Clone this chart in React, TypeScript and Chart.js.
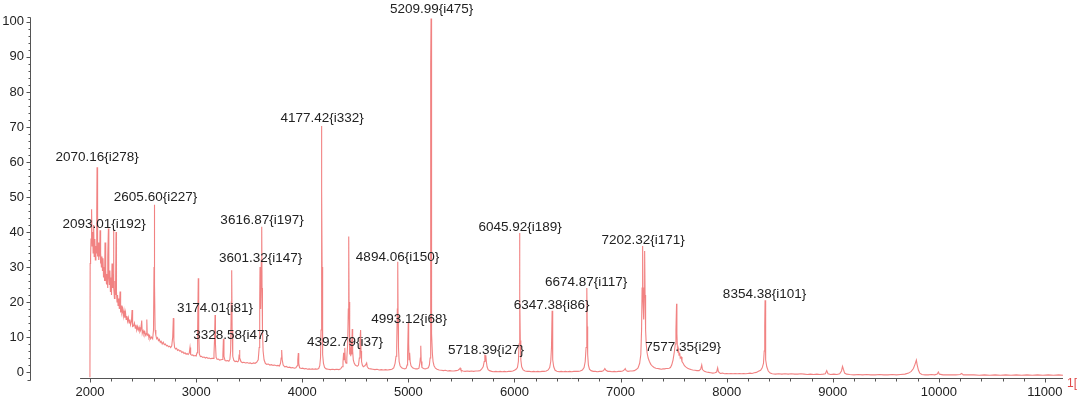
import React, { useEffect, useRef } from "react";
import { Chart, registerables } from "chart.js";

Chart.register(...registerables);

// ---- data ----
const xTickValues = [2000, 3000, 4000, 5000, 6000, 7000, 8000, 9000, 10000, 11000];
const yTickValues = [0, 10, 20, 30, 40, 50, 60, 70, 80, 90, 100];

const peakMz = [2070.16, 2093.01, 2605.6, 3616.87, 3601.32, 3174.01, 3328.58, 4177.42, 5209.99, 4894.06, 4993.12, 4392.79, 5718.39, 6045.92, 6347.38, 6674.87, 7202.32, 7577.35, 8354.38];
const peakIntensity = [278, 192, 227, 197, 147, 81, 47, 332, 475, 150, 68, 37, 27, 189, 86, 117, 171, 29, 101];
const labelMzPositions = [2066, 2132, 2617, 3621, 3607, 3178, 3329, 4187, 5219, 4898, 5007, 4403, 5732, 6053, 6350, 6675, 7212, 7590, 8357];
const labelHeights = [61.2, 42.3, 50.0, 43.4, 32.6, 18.3, 10.6, 72.6, 103.7, 32.9, 15.2, 8.6, 6.3, 41.4, 19.1, 25.7, 37.7, 7.1, 22.3];

const spectrum: [number, number][] = [
  [1999, -1.5], [2001, 31], [2005, 33], [2009, 38], [2013, 44], [2016, 46.5], [2019, 36], [2024, 40], [2029, 34],
  [2034, 42], [2039, 33], [2045, 38], [2050, 32], [2055, 36], [2060, 34], [2063, 45], [2066, 58.5], [2069, 40],
  [2073, 33], [2078, 37], [2082, 32], [2087, 35], [2091, 33], [2094, 40.5], [2097, 31], [2102, 34], [2107, 30],
  [2112, 33], [2117, 29], [2122, 32.5], [2127, 27], [2132, 30], [2137, 26], [2141, 37], [2145, 26], [2150, 29],
  [2155, 25], [2160, 28], [2165, 24], [2169, 33], [2173, 41], [2177, 27], [2182, 25], [2187, 29], [2192, 23],
  [2197, 27], [2202, 22], [2207, 31], [2212, 24], [2217, 28], [2221, 40.5], [2225, 24], [2230, 21], [2235, 26],
  [2240, 22], [2245, 40], [2249, 23], [2254, 20], [2259, 22], [2264, 19], [2270, 21], [2276, 18], [2283, 23],
  [2288, 17], [2294, 19], [2300, 17], [2307, 18], [2314, 16], [2320, 17.5], [2327, 15.5], [2334, 17], [2340, 15],
  [2347, 16], [2354, 14.5], [2361, 15.5], [2368, 14], [2375, 15], [2382, 13.5], [2390, 14.5], [2396, 17.7], [2401, 13],
  [2410, 13.2], [2418, 14], [2426, 12.5], [2433, 13.5], [2440, 12], [2447, 13], [2455, 12], [2462, 12.8], [2470, 11.5],
  [2478, 12], [2487, 14.7], [2492, 11], [2500, 11.8], [2508, 10.8], [2516, 11.5], [2524, 10.5], [2531, 11], [2535, 15],
  [2539, 10.5], [2547, 10.8], [2555, 9.8], [2563, 10.3], [2571, 9.5], [2580, 10], [2590, 9.5], [2598, 12], [2603, 30],
  [2606, 47.8], [2609, 25], [2613, 12], [2620, 10.5], [2628, 9.5], [2636, 9.8], [2645, 9], [2653, 9.3], [2662, 8.5],
  [2670, 8.8], [2680, 8], [2690, 8.5], [2700, 7.8], [2710, 8], [2720, 7.5], [2730, 7.6], [2740, 7.2], [2750, 7.4],
  [2760, 7], [2770, 7.5], [2779, 10], [2785, 15.4], [2790, 9], [2797, 7], [2806, 6.6], [2815, 6.8], [2825, 6.2],
  [2835, 6.4], [2845, 6], [2855, 6.1], [2865, 5.6], [2875, 5.8], [2885, 5.3], [2895, 5.5], [2905, 5.1], [2915, 5.3],
  [2925, 5], [2935, 5.4], [2942, 7], [2948, 5], [2958, 4.8], [2968, 4.9], [2978, 4.6], [2990, 4.7], [3000, 4.6],
  [3008, 5.5], [3014, 12], [3020, 26.8], [3024, 12], [3030, 5.2], [3040, 4.4], [3050, 4.5], [3062, 4.2], [3075, 4.3],
  [3088, 4], [3100, 4.2], [3112, 3.9], [3124, 4], [3136, 3.8], [3148, 3.9], [3160, 3.9], [3168, 5], [3174, 10],
  [3178, 16.3], [3182, 8], [3188, 4.2], [3198, 3.6], [3210, 3.7], [3222, 3.4], [3234, 3.5], [3246, 3.6], [3252, 5],
  [3257, 9.5], [3262, 4.5], [3272, 3.3], [3284, 3.2], [3296, 3.3], [3308, 3.1], [3318, 3.6], [3325, 6], [3331, 20],
  [3335, 29.1], [3339, 12], [3345, 4.5], [3355, 3.3], [3367, 3], [3380, 3.1], [3392, 2.9], [3400, 3.2], [3404, 4.5],
  [3408, 6.3], [3413, 4], [3422, 3], [3435, 2.7], [3450, 2.8], [3465, 2.6], [3480, 2.7], [3495, 2.5], [3510, 2.6],
  [3525, 2.4], [3540, 2.6], [3555, 2.5], [3570, 2.8], [3585, 3.5], [3594, 7], [3599, 20], [3602, 30], [3606, 22],
  [3610, 18], [3614, 32], [3618, 41.5], [3621, 24], [3625, 12], [3631, 6], [3640, 3.5], [3652, 2.5], [3665, 2.2],
  [3680, 2.3], [3695, 2], [3710, 2.1], [3725, 1.9], [3740, 2], [3755, 1.8], [3770, 1.9], [3785, 1.7], [3795, 2.5],
  [3801, 4], [3806, 6.3], [3811, 3.5], [3820, 2], [3835, 1.5], [3850, 1.6], [3865, 1.3], [3880, 1.4], [3895, 1.2],
  [3910, 1.3], [3925, 1.1], [3940, 1.2], [3952, 1.8], [3958, 3.5], [3963, 5.4], [3967, 2.5], [3975, 1.2], [3990, 1],
  [4005, 1.1], [4020, 0.9], [4035, 1], [4050, 0.8], [4065, 0.9], [4080, 0.8], [4095, 0.9], [4110, 0.8], [4125, 0.9],
  [4140, 0.8], [4155, 1], [4165, 1.8], [4172, 4], [4177, 12], [4180, 46], [4183, 70.3], [4185, 52], [4187, 30],
  [4190, 12], [4194, 5], [4200, 2.5], [4210, 1.3], [4225, 0.9], [4245, 0.8], [4265, 0.7], [4285, 0.8], [4305, 0.7],
  [4325, 0.8], [4345, 0.7], [4362, 0.9], [4375, 1.5], [4384, 3], [4390, 5.5], [4395, 3.5], [4401, 6.9], [4406, 3],
  [4413, 2.5], [4420, 4], [4428, 8], [4434, 18], [4438, 38.7], [4441, 20], [4445, 9], [4449, 5], [4453, 7],
  [4457, 4.5], [4462, 9], [4466, 5], [4471, 12.3], [4475, 6], [4481, 3.5], [4490, 2.5], [4500, 2], [4510, 1.8],
  [4520, 1.7], [4530, 2], [4538, 4], [4544, 9], [4550, 12], [4554, 6], [4559, 3], [4566, 2], [4575, 1.5],
  [4590, 1.8], [4600, 2.2], [4607, 2.6], [4612, 1.6], [4625, 1], [4645, 0.9], [4665, 0.8], [4685, 0.7], [4705, 0.8],
  [4725, 0.6], [4745, 0.7], [4765, 0.6], [4785, 0.7], [4805, 0.6], [4825, 0.7], [4845, 0.8], [4862, 1.2], [4875, 2.5],
  [4884, 4.5], [4890, 7], [4896, 18], [4900, 31.5], [4903, 16], [4907, 7], [4913, 3], [4922, 1.8], [4937, 1.2],
  [4952, 1], [4967, 0.9], [4980, 1.1], [4988, 2], [4993, 5], [4999, 14], [5003, 8], [5007, 3.5], [5012, 5.5],
  [5017, 3], [5025, 1.8], [5040, 1.2], [5055, 1], [5070, 0.9], [5085, 0.9], [5100, 1.1], [5108, 2.5], [5113, 4],
  [5117, 7.5], [5121, 3], [5128, 1.3], [5143, 1], [5158, 0.9], [5173, 1], [5188, 1.2], [5198, 2], [5205, 4],
  [5209, 12], [5212, 88], [5214, 101], [5216, 45], [5218, 28], [5222, 11], [5227, 5], [5233, 3], [5242, 1.8],
  [5255, 1.1], [5270, 0.8], [5290, 0.6], [5310, 0.5], [5330, 0.4], [5350, 0.5], [5370, 0.3], [5390, 0.4], [5410, 0.3],
  [5430, 0.3], [5450, 0.4], [5468, 0.5], [5480, 0.8], [5488, 1.1], [5496, 0.5], [5515, 0.3], [5535, 0.2], [5555, 0.3],
  [5575, 0.2], [5595, 0.3], [5615, 0.2], [5635, 0.3], [5655, 0.3], [5675, 0.4], [5690, 0.8], [5705, 1.5], [5715, 3],
  [5721, 5], [5725, 3.2], [5730, 4.8], [5735, 3], [5742, 1.5], [5752, 0.7], [5765, 0.4], [5785, 0.2], [5805, 0.1],
  [5825, 0.2], [5845, 0.1], [5865, 0.2], [5885, 0.1], [5905, 0.2], [5925, 0.1], [5945, 0.2], [5965, 0.2], [5985, 0.3],
  [6000, 0.5], [6015, 0.8], [6028, 1.3], [6037, 3], [6043, 8], [6047, 20], [6050, 39.7], [6052, 22], [6055, 9],
  [6060, 3.5], [6068, 1.5], [6082, 0.6], [6100, 0.3], [6120, 0.2], [6140, 0.2], [6160, 0.1], [6180, 0.2], [6200, 0.1],
  [6220, 0.2], [6240, 0.1], [6260, 0.2], [6280, 0.2], [6300, 0.3], [6318, 0.6], [6332, 1.3], [6342, 3], [6349, 7],
  [6355, 17.5], [6358, 9], [6363, 3.5], [6370, 1.5], [6383, 0.5], [6400, 0.2], [6420, 0.1], [6440, 0.2], [6460, 0.1],
  [6480, 0.2], [6500, 0.1], [6520, 0.2], [6540, 0.1], [6560, 0.2], [6580, 0.2], [6600, 0.2], [6620, 0.3], [6640, 0.6],
  [6656, 1.3], [6667, 3], [6675, 7], [6681, 13], [6683, 24], [6686, 13], [6690, 5], [6697, 2], [6707, 0.8],
  [6722, 0.4], [6742, 0.2], [6762, 0.2], [6782, 0.1], [6802, 0.2], [6822, 0.2], [6840, 0.4], [6852, 1], [6862, 0.5],
  [6880, 0.2], [6900, 0.2], [6920, 0.1], [6940, 0.2], [6960, 0.1], [6980, 0.2], [7000, 0.2], [7020, 0.3], [7035, 0.6],
  [7044, 1], [7053, 0.4], [7070, 0.2], [7090, 0.3], [7110, 0.3], [7130, 0.4], [7148, 0.7], [7165, 1.2], [7180, 2.5],
  [7191, 5], [7198, 12], [7203, 24], [7208, 36], [7212, 20], [7218, 15], [7222, 24], [7227, 34.6], [7231, 22],
  [7236, 12], [7242, 8], [7250, 5.5], [7260, 4], [7272, 3], [7285, 2.2], [7300, 1.7], [7316, 1.3], [7333, 1.1],
  [7350, 1], [7368, 0.9], [7385, 0.8], [7400, 0.9], [7415, 0.9], [7430, 1], [7445, 1], [7458, 1.1], [7470, 1.3],
  [7482, 2], [7495, 3.5], [7508, 6], [7516, 8], [7522, 12], [7528, 19.5], [7531, 11], [7536, 6.5], [7541, 5.5],
  [7546, 6.5], [7551, 4.8], [7557, 5.5], [7563, 4], [7571, 4.3], [7579, 3], [7590, 2.5], [7602, 1.8], [7617, 1.4],
  [7632, 1.1], [7648, 0.9], [7664, 0.7], [7680, 0.6], [7700, 0.5], [7720, 0.4], [7740, 0.4], [7755, 0.8], [7765, 2],
  [7772, 0.7], [7790, 0.2], [7810, 0], [7830, -0.1], [7850, -0.2], [7870, -0.3], [7890, -0.2], [7905, 0], [7915, 1.2],
  [7922, 0.1], [7940, -0.4], [7960, -0.3], [7980, -0.5], [8000, -0.4], [8020, -0.5], [8040, -0.4], [8060, -0.5],
  [8080, -0.4], [8100, -0.5], [8120, -0.4], [8140, -0.5], [8160, -0.4], [8180, -0.5], [8200, -0.4], [8220, -0.3],
  [8240, -0.4], [8260, -0.2], [8280, -0.1], [8300, 0.2], [8320, 0.5], [8335, 1.2], [8347, 2.5], [8354, 6], [8359, 13],
  [8362, 20.5], [8365, 9], [8370, 3.5], [8378, 1.5], [8392, 0.3], [8410, -0.3], [8430, -0.5], [8460, -0.6], [8490, -0.5],
  [8520, -0.6], [8550, -0.5], [8580, -0.6], [8610, -0.5], [8640, -0.6], [8670, -0.6], [8700, -0.5], [8730, -0.6],
  [8760, -0.7], [8790, -0.6], [8820, -0.7], [8850, -0.6], [8880, -0.7], [8910, -0.6], [8930, -0.5], [8943, 0.4],
  [8955, -0.5], [8980, -0.7], [9010, -0.6], [9040, -0.7], [9065, -0.5], [9082, 0.3], [9092, 1.6], [9100, 0.8],
  [9112, -0.3], [9130, -0.6], [9160, -0.7], [9200, -0.8], [9240, -0.7], [9280, -0.8], [9320, -0.7], [9360, -0.8],
  [9400, -0.8], [9440, -0.7], [9480, -0.8], [9520, -0.8], [9560, -0.7], [9600, -0.8], [9640, -0.7], [9680, -0.6],
  [9715, -0.3], [9740, 0.2], [9760, 1], [9775, 2.2], [9788, 3.4], [9796, 2], [9808, 0.5], [9820, -0.3], [9840, -0.7],
  [9870, -0.8], [9900, -0.8], [9930, -0.7], [9960, -0.8], [9985, -0.6], [9995, 0], [10005, -0.6], [10040, -0.8],
  [10080, -0.8], [10120, -0.8], [10160, -0.8], [10200, -0.7], [10215, -0.4], [10230, -0.8], [10280, -0.8],
  [10330, -0.8], [10380, -0.9], [10430, -0.8], [10480, -0.9], [10530, -0.8], [10580, -0.9], [10630, -0.8],
  [10680, -0.9], [10730, -0.8], [10780, -0.9], [10830, -0.8], [10880, -0.9], [10930, -0.8], [10980, -0.9],
  [11030, -0.8], [11080, -0.9], [11130, -0.8], [11170, -0.9],
];

// ---- layout / style constants ----
const X_MIN = 1434;
const X_MAX = 11170;
const Y_MIN = -1.7;
const Y_MAX = 101.4;
const X_AXIS_START = 1906;
const X_MINOR_STEP = 200;
const Y_MINOR_STEP = 2;
const AXIS_COLOR = "#555";
const TEXT_COLOR = "#222";
const LINE_COLOR = "rgba(236, 82, 82, 0.72)";
const FONT_FAMILY = '"Liberation Sans", Arial, sans-serif';

const axesPlugin = {
  id: "customAxes",
  afterDraw(chart: any) {
    const { ctx, chartArea, scales } = chart;
    const xs = scales.x;
    const ys = scales.y;
    ctx.save();
    ctx.strokeStyle = AXIS_COLOR;
    ctx.lineWidth = 1;
    // y axis
    const yx = Math.round(chartArea.left) + 0.5;
    ctx.beginPath();
    ctx.moveTo(yx - 3, chartArea.top + 0.5);
    ctx.lineTo(yx, chartArea.top + 0.5);
    ctx.lineTo(yx, chartArea.bottom + 2.5);
    ctx.lineTo(yx - 3, chartArea.bottom + 2.5);
    ctx.stroke();
    for (let v = 0; v <= 100; v += Y_MINOR_STEP) {
      const py = Math.round(ys.getPixelForValue(v)) + 0.5;
      const len = v % 10 === 0 ? 4 : 2;
      ctx.beginPath();
      ctx.moveTo(yx - len, py);
      ctx.lineTo(yx, py);
      ctx.stroke();
    }
    // x axis
    const xy = Math.round(chartArea.bottom) + 0.5;
    ctx.beginPath();
    ctx.moveTo(xs.getPixelForValue(X_AXIS_START), xy);
    ctx.lineTo(chartArea.right, xy);
    ctx.stroke();
    for (let v = 2000; v <= 11000; v += X_MINOR_STEP) {
      const px = Math.round(xs.getPixelForValue(v)) + 0.5;
      const len = v % 1000 === 0 ? 4 : 3;
      ctx.beginPath();
      ctx.moveTo(px, xy);
      ctx.lineTo(px, xy + len);
      ctx.stroke();
    }
    // truncated axis title at the right end
    ctx.fillStyle = "#e04848";
    ctx.font = `12px ${FONT_FAMILY}`;
    ctx.textAlign = "left";
    ctx.textBaseline = "middle";
    ctx.fillText("1[", chartArea.right + 4, xy + 5);
    ctx.restore();
  },
};

const labelsPlugin = {
  id: "peakLabels",
  afterDraw(chart: any) {
    const { ctx, scales } = chart;
    ctx.save();
    ctx.fillStyle = TEXT_COLOR;
    ctx.font = `13.5px ${FONT_FAMILY}`;
    ctx.textAlign = "center";
    ctx.textBaseline = "middle";
    peakMz.forEach((mz, i) => {
      const text = `${mz.toFixed(2)}{i${peakIntensity[i]}}`;
      const px = scales.x.getPixelForValue(labelMzPositions[i]);
      const py = scales.y.getPixelForValue(labelHeights[i]);
      ctx.fillText(text, px, py);
    });
    ctx.restore();
  },
};

export default function App() {
  const canvasRef = useRef<HTMLCanvasElement | null>(null);

  useEffect(() => {
    const canvas = canvasRef.current;
    if (!canvas) return;
    const chart = new Chart(canvas, {
      type: "line",
      data: {
        datasets: [
          {
            data: spectrum.map(([x, y]) => ({ x, y })),
            borderColor: LINE_COLOR,
            borderWidth: 1.1,
            pointRadius: 0,
            tension: 0,
            fill: false,
          },
        ],
      },
      options: {
        animation: false,
        responsive: false,
        maintainAspectRatio: false,
        devicePixelRatio: 1,
        layout: { padding: { top: 17, right: 17, left: 0, bottom: 0 } },
        plugins: { legend: { display: false }, tooltip: { enabled: false } },
        scales: {
          x: {
            type: "linear",
            min: X_MIN,
            max: X_MAX,
            afterBuildTicks: (s: any) => {
              s.ticks = xTickValues.map((value) => ({ value }));
            },
            afterFit: (s: any) => {
              s.height = 22;
            },
            grid: { display: false, drawTicks: false },
            border: { display: false },
            ticks: {
              autoSkip: false,
              maxRotation: 0,
              padding: 7,
              color: TEXT_COLOR,
              font: { family: FONT_FAMILY, size: 13 },
              callback: (v: any) => String(v),
            },
          },
          y: {
            type: "linear",
            min: Y_MIN,
            max: Y_MAX,
            afterBuildTicks: (s: any) => {
              s.ticks = yTickValues.map((value) => ({ value }));
            },
            afterFit: (s: any) => {
              s.width = 30;
            },
            grid: { display: false, drawTicks: false },
            border: { display: false },
            ticks: {
              autoSkip: false,
              padding: 6,
              color: TEXT_COLOR,
              font: { family: FONT_FAMILY, size: 13 },
              callback: (v: any) => String(v),
            },
          },
        },
      },
      plugins: [axesPlugin, labelsPlugin],
    });
    return () => chart.destroy();
  }, []);

  return (
    <div style={{ position: "fixed", left: 0, top: 0, width: 1080, height: 400, background: "#fff" }}>
      <canvas ref={canvasRef} width={1080} height={400} style={{ display: "block", width: 1080, height: 400 }} />
    </div>
  );
}
